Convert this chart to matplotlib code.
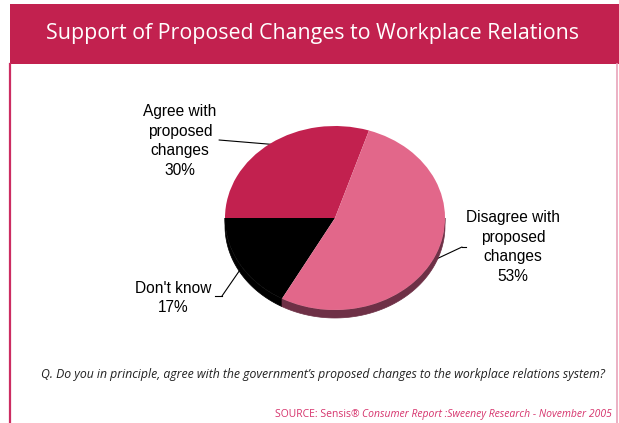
import numpy as np
import matplotlib
matplotlib.use("Agg")
import matplotlib.pyplot as plt
from matplotlib.lines import Line2D
from matplotlib.patches import Rectangle, Polygon

# ---- data ----
labels = ["Agree with\nproposed\nchanges", "Don't know", "Disagree with\nproposed\nchanges"]
values = [30, 17, 53]
top_colors = ["#C2214F", "#000000", "#E2678A"]
side_colors = ["#7A1532", "#000000", "#6E3046"]

title = "Support of Proposed Changes to Workplace Relations"
question = "Q. Do you in principle, agree with the government\u2019s proposed changes to the workplace relations system?"
source_plain = "SOURCE: Sensis\u00ae "
source_italic = "Consumer Report :Sweeney Research - November 2005"

W, H = 619, 423
fig = plt.figure(figsize=(W / 100, H / 100), dpi=100)
fig.patch.set_facecolor("white")


def fx(x):
    return x / W


def fy(y):
    return 1 - y / H


# ---- frame: title bar and side rules ----
fig.add_artist(Rectangle((fx(9.5), fy(64)), fx(619) - fx(9.5), fy(4) - fy(64),
                         transform=fig.transFigure, facecolor="#C2214F", edgecolor="none"))
fig.add_artist(Line2D([fx(10), fx(10)], [fy(64), fy(423)], transform=fig.transFigure,
                      color="#CC2D62", lw=1.6))
fig.add_artist(Line2D([fx(617), fx(617)], [fy(64), fy(423)], transform=fig.transFigure,
                      color="#E9A3BA", lw=1.2))
fig.text(fx(312.5), fy(33), title, ha="center", va="center", color="white",
         fontsize=15.4, family="Open Sans")

# ---- pie (tilted, with a shallow side) ----
cx, cy, a, b = 335, 218, 110, 92
left, right, top, bottom = 215, 455, 118, 332
ax = fig.add_axes([fx(left), fy(bottom), fx(right) - fx(left), fy(top) - fy(bottom)])
startangle = 72
depth = 8 / b

# side band for the front half of each slice
angles = startangle + 360 * np.concatenate([[0], np.cumsum(values)]) / sum(values)
for i in range(len(values)):
    t1, t2 = angles[i], angles[i + 1]
    for lo, hi in [(180, 360), (540, 720)]:
        s, e = max(t1, lo), min(t2, hi)
        if e > s:
            th = np.radians(np.linspace(s, e, 80))
            xs = np.concatenate([np.cos(th), np.cos(th[::-1])])
            ys = np.concatenate([np.sin(th), np.sin(th[::-1]) - depth])
            ax.add_patch(Polygon(np.column_stack([xs, ys]), closed=True,
                                 facecolor=side_colors[i], edgecolor=side_colors[i],
                                 lw=0.5, zorder=1))

wedges, _ = ax.pie(values, colors=top_colors, startangle=startangle, counterclock=True,
                   radius=1, wedgeprops=dict(linewidth=0, zorder=2))
ax.set_aspect("auto")
ax.set_xlim((left - cx) / a, (right - cx) / a)
ax.set_ylim((cy - bottom) / b, (cy - top) / b)
ax.axis("off")

# ---- labels with leader lines ----
label_font = dict(family="Liberation Sans", fontsize=11.2, color="black",
                  ha="center", va="center", linespacing=1.38)
mids = [(angles[i] + angles[i + 1]) / 2 for i in range(len(values))]

# Agree
fig.text(fx(180), fy(141), f"{labels[0]}\n{values[0]}%", **label_font)
# Don't know
fig.text(fx(173), fy(298), f"{labels[1]}\n{values[1]}%", **label_font)
# Disagree
fig.text(fx(513), fy(247), f"{labels[2]}\n{values[2]}%", **label_font)

leaders = [
    # (index, elbow start px, elbow px, depth offset)
    (0, (219, 140), (219, 140), 0.0),
    (1, (215, 296), (222, 296), -0.04),
    (2, (466, 247), (462, 247), -0.06),
]
for i, p0, p1, dy in leaders:
    th = np.radians(mids[i])
    pt = (np.cos(th) * 0.99, np.sin(th) * 0.99 + dy)
    ax.annotate("", xy=pt, xycoords="data", xytext=(fx(p1[0]), fy(p1[1])),
                textcoords="figure fraction",
                arrowprops=dict(arrowstyle="-", lw=0.8, color="black", shrinkA=0, shrinkB=0),
                annotation_clip=False, zorder=0)
    fig.add_artist(Line2D([fx(p0[0]), fx(p1[0])], [fy(p0[1]), fy(p1[1])],
                          transform=fig.transFigure, color="black", lw=0.8))

# ---- question and source ----
fig.text(fx(323), fy(374), question, ha="center", va="center", fontsize=8.85,
         style="italic", family="Open Sans", color="#222222")
src_italic = fig.text(fx(612), fy(414), source_italic, ha="right", va="center",
                      fontsize=7.5, style="italic", family="Open Sans", color="#D6336C")
fig.canvas.draw()
bb = src_italic.get_window_extent()
fig.text(bb.x0 / fig.bbox.width, fy(414), source_plain, ha="right", va="center",
         fontsize=7.5, family="Open Sans", color="#D6336C")

fig.savefig("out.png", dpi=100)
